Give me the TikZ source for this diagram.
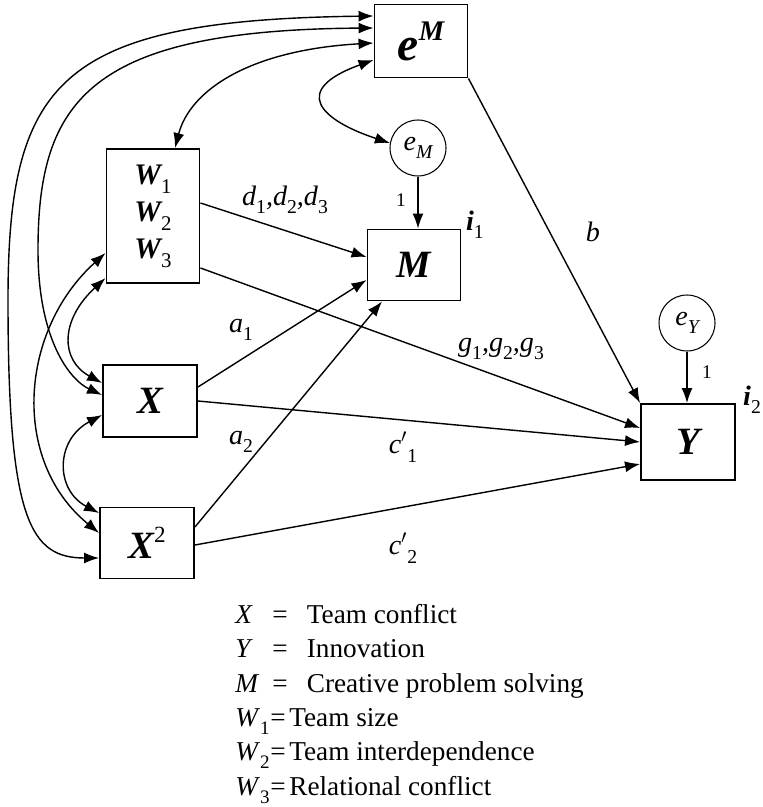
\documentclass[tikz,border=0pt]{standalone}
\usepackage{fontspec}
\setmainfont{Liberation Serif}
\usetikzlibrary{arrows.meta}
\usetikzlibrary{positioning}
\newcommand{\lowsub}[1]{\raisebox{-0.3em}{\scalebox{0.7}{\normalfont #1}}}
\newcommand{\highsup}[1]{\raisebox{0.42em}{\scalebox{0.6}{#1}}}

\begin{document}
\begin{tikzpicture}[x=0.02cm, y=-0.02cm,
box/.style={rectangle, draw=black, fill=none, line width=1.1pt, inner sep=0pt, font=\fontsize{22}{24}\selectfont\bfseries\itshape},
errnode/.style={circle, draw=black, fill=none, line width=0.6pt, minimum size=1.12cm, inner sep=0pt, font=\fontsize{16}{18}\selectfont\itshape},
effect/.style={-{Latex[length=3mm,width=2.2mm]}, line width=0.8pt},
covar/.style={{Latex[length=3mm,width=2.2mm]}-{Latex[length=3mm,width=2.2mm]}, line width=0.8pt},
coef/.style={font=\fontsize{16}{18}\selectfont\itshape, inner sep=0pt},
one/.style={font=\fontsize{11}{12}\selectfont, inner sep=0pt},
leg/.style={anchor=base west, font=\fontsize{15.5}{18}\selectfont, inner sep=0pt},
]
\useasboundingbox (0,0) rectangle (762,807);

% variables
\node[box, minimum width=1.86cm, minimum height=1.46cm] (eMbox) at (421,41) {\fontsize{27}{27}\selectfont e\highsup{M}};
\node[box, minimum width=1.86cm, minimum height=2.68cm, align=center, font=\fontsize{17}{18}\selectfont\bfseries\itshape] (wbox) at (153,216) {W\lowsub{1}\\[3pt]W\lowsub{2}\\[3pt]W\lowsub{3}};
\node[box, minimum width=1.86cm, minimum height=1.42cm] (mbox) at (414,265) {M};
\node[box, minimum width=1.88cm, minimum height=1.44cm] (xbox) at (150,401) {X};
\node[box, minimum width=1.88cm, minimum height=1.42cm] (xsq) at (147,543) {X\highsup{\normalfont 2}};
\node[box, minimum width=1.88cm, minimum height=1.52cm] (ybox) at (688,442) {Y};
\node[errnode] (eMc) at (418,148) {e\lowsub{\itshape M}};
\node[errnode] (eYc) at (687,323) {e\lowsub{\itshape Y}};

% paths
\draw[effect] ([yshift=0.26cm]wbox.east) -- ([yshift=0.16cm]mbox.west);
\draw[effect] ([yshift=-1.04cm]wbox.east) -- ([yshift=0.28cm]ybox.west);
\draw[effect] ([yshift=0.28cm]xbox.east) -- ([yshift=-0.3cm]mbox.west);
\draw[effect] (xbox.east) -- (ybox.west);
\draw[effect] ([yshift=0.32cm]xsq.east) -- ([xshift=-0.64cm]mbox.south);
\draw[effect] ([yshift=-0.04cm]xsq.east) -- ([yshift=-0.44cm]ybox.west);
\draw[effect] (eMbox.south east) -- (ybox.north west);
\draw[effect] (eMc.south) -- (eMc.south |- mbox.north);
\draw[effect] (eYc.south) -- (eYc.south |- ybox.north);

% covariances
\draw[covar] ([yshift=0.5cm]eMbox.west) .. controls (60,20) and (8,80) .. (8,300) .. controls (8,520) and (30,558) .. ([yshift=-0.3cm]xsq.west);
\draw[covar] ([yshift=0.26cm]eMbox.west) .. controls (90,30) and (38,100) .. (38,250) .. controls (38,340) and (70,380) .. ([yshift=0.12cm]xbox.west);
\draw[covar] ([yshift=-0.04cm]eMbox.west) .. controls (250,50) and (190,90) .. ([xshift=0.44cm]wbox.north);
\draw[covar] ([yshift=-0.38cm]eMbox.west) .. controls (290,90) and (320,120) .. (eMc.170);
\draw[covar] ([yshift=-0.74cm]wbox.west) .. controls (20,330) and (10,460) .. ([yshift=0.2cm]xsq.west);
\draw[covar] ([yshift=-1.24cm]wbox.west) .. controls (60,320) and (60,360) .. ([yshift=0.36cm]xbox.west);
\draw[covar] ([yshift=-0.28cm]xbox.west) .. controls (55,440) and (55,490) .. ([yshift=0.6cm]xsq.west);

% coefficients
\node[coef] (dlab) at (285,200) {d\lowsub{1},d\lowsub{2},d\lowsub{3}};
\node[coef] (glab) at (501,349) {g\lowsub{1},g\lowsub{2},g\lowsub{3}};
\node[coef] (a1lab) at (241,330) {a\lowsub{1}};
\node[coef] (a2lab) at (241,442) {a\lowsub{2}};
\node[coef] (blab) at (593,232) {b};
\node[coef] (c1lab) at (403,447) {c$'$\lowsub{1}};
\node[coef] (c2lab) at (403,548) {c$'$\lowsub{2}};
\node[coef, font=\fontsize{16}{18}\selectfont\bfseries\itshape] (i1lab) at (475,225) {i\lowsub{1}};
\node[coef, font=\fontsize{16}{18}\selectfont\bfseries\itshape] (i2lab) at (752,400) {i\lowsub{2}};
\node[one] (onem) at (401,200) {1};
\node[one] (oney) at (707,372) {1};

% legend
\node[leg] (lgx) at (235,623) {\makebox[21pt][l]{\textit{X}}=\hspace{11pt}Team conflict};
\node[leg] (lgy) at (235,657) {\makebox[21pt][l]{\textit{Y}}=\hspace{11pt}Innovation};
\node[leg] (lgm) at (235,692) {\makebox[21pt][l]{\textit{M}}=\hspace{11pt}Creative problem solving};
\node[leg] (lgw1) at (235,726) {\makebox[20pt][l]{\textit{W}\lowsub{1}}=\hspace{2pt}Team size};
\node[leg] (lgw2) at (235,760) {\makebox[20pt][l]{\textit{W}\lowsub{2}}=\hspace{2pt}Team interdependence};
\node[leg] (lgw3) at (235,795) {\makebox[20pt][l]{\textit{W}\lowsub{3}}=\hspace{2pt}Relational conflict};
\end{tikzpicture}
\end{document}
